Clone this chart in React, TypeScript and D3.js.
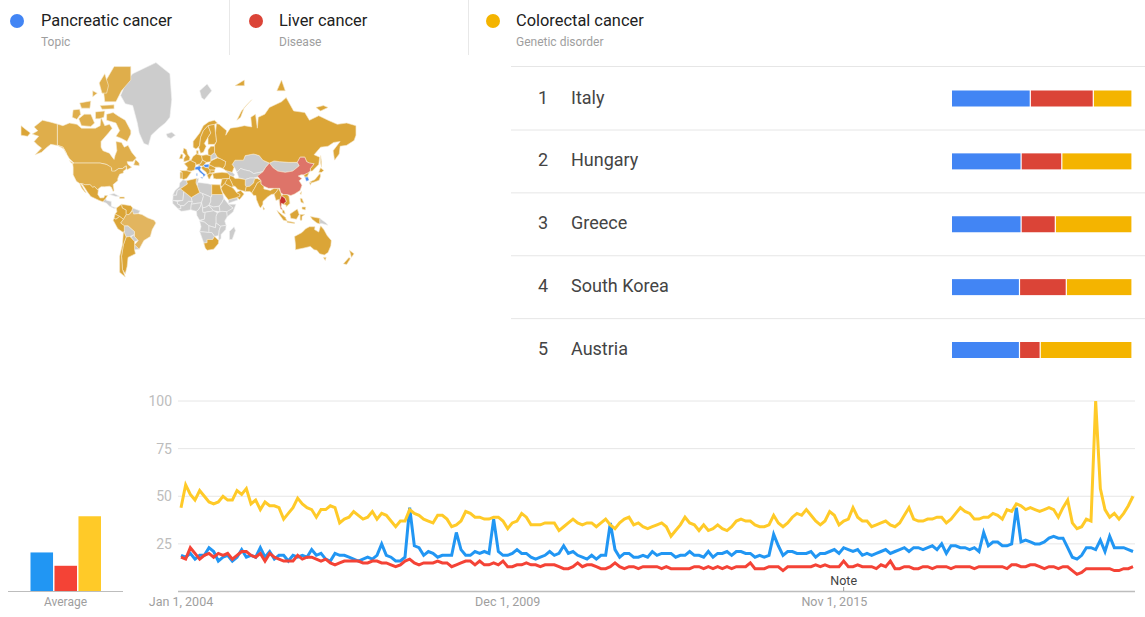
import * as d3 from 'd3';

type Ring = [number, number][];

const topics = ['Pancreatic cancer', 'Liver cancer', 'Colorectal cancer'];
const topicKinds = ['Topic', 'Disease', 'Genetic disorder'];

const regions = ['Italy', 'Hungary', 'Greece', 'South Korea', 'Austria'];
const pancreaticShare = [43.5, 38.4, 38.4, 37.5, 37.5];
const liverShare = [35, 22.6, 19, 26, 11.5];
const colorectalShare = [21.5, 39, 42.6, 36.5, 51];

const averages = [20.5, 13.5, 39.5];

const yTicks = [25, 50, 75, 100];
const xLabels: [number, string][] = [[0, 'Jan 1, 2004'], [70, 'Dec 1, 2009'], [140, 'Nov 1, 2015']];
const noteMonth = 142;

const pancreatic = [
  19, 18, 20, 17, 19, 19, 23, 21, 16, 18, 19, 16, 18, 22, 18, 19, 18, 23, 18, 21,
  17, 19, 19, 16, 19, 18, 19, 18, 22, 19, 20, 17, 16, 20, 19, 19, 18, 17, 16, 17,
  18, 17, 19, 25, 19, 18, 16, 16, 18, 44, 24, 23, 19, 21, 20, 18, 19, 19, 19, 31,
  22, 19, 19, 21, 20, 21, 20, 38, 21, 19, 19, 20, 22, 20, 20, 18, 17, 18, 19, 21,
  19, 20, 24, 20, 21, 19, 18, 17, 19, 17, 19, 19, 36, 22, 18, 20, 20, 18, 18, 19,
  18, 21, 19, 20, 20, 20, 18, 19, 19, 21, 19, 19, 18, 21, 18, 20, 20, 21, 19, 21,
  21, 20, 20, 18, 19, 18, 19, 30, 24, 19, 21, 21, 20, 20, 20, 21, 18, 20, 20, 21,
  22, 20, 23, 22, 21, 22, 19, 20, 19, 20, 21, 22, 20, 21, 22, 23, 21, 23, 23,
  22, 23, 24, 22, 25, 20, 24, 24, 23, 23, 22, 23, 21, 31, 24, 26, 26, 24, 24, 25,
  44, 26, 27, 26, 25, 25, 26, 28, 29, 28, 28, 23, 18, 17, 19, 23, 23, 22, 27, 21, 29,
  23, 23, 23, 22, 21,
];

const liver = [
  18, 17, 23, 20, 17, 19, 20, 18, 20, 19, 20, 17, 19, 21, 21, 19, 18, 20, 16, 20,
  18, 17, 16, 16, 16, 19, 17, 18, 18, 17, 16, 17, 15, 14, 15, 16, 16, 16, 16, 15,
  15, 16, 16, 15, 15, 14, 13, 14, 16, 17, 15, 14, 15, 15, 15, 16, 15, 15, 13, 14,
  15, 16, 16, 14, 16, 14, 14, 15, 14, 16, 13, 13, 14, 14, 15, 14, 14, 13, 14, 14,
  14, 13, 12, 12, 13, 15, 13, 14, 14, 13, 12, 12, 13, 15, 13, 12, 13, 13, 12, 13,
  13, 13, 13, 12, 13, 12, 12, 12, 12, 12, 13, 13, 12, 13, 12, 13, 12, 13, 12, 13,
  13, 13, 15, 12, 12, 12, 13, 13, 13, 11, 13, 13, 13, 13, 13, 13, 14, 13, 14, 13,
  13, 13, 16, 13, 13, 14, 13, 13, 13, 12, 14, 13, 16, 12, 12, 13, 13, 12, 12, 13,
  13, 12, 13, 13, 13, 12, 13, 13, 13, 13, 12, 13, 13, 13, 13, 13, 13, 12, 14, 14,
  13, 13, 14, 14, 13, 12, 13, 13, 12, 13, 13, 11, 9, 10, 12, 12, 12, 12, 12, 12,
  11, 11, 12, 12, 13,
];

const colorectal = [
  44, 56, 51, 48, 53, 50, 47, 46, 47, 50, 48, 48, 53, 51, 54, 46, 48, 43, 47, 45,
  45, 44, 38, 41, 44, 49, 46, 44, 43, 39, 43, 43, 45, 44, 36, 38, 39, 42, 40, 38,
  39, 42, 38, 41, 40, 37, 34, 37, 37, 43, 41, 40, 38, 37, 36, 40, 40, 38, 34, 35,
  37, 42, 41, 39, 39, 38, 38, 39, 39, 37, 33, 36, 37, 41, 39, 35, 35, 35, 36, 36,
  36, 32, 34, 36, 38, 36, 35, 36, 36, 34, 36, 38, 35, 33, 36, 38, 39, 35, 36, 34,
  33, 34, 35, 36, 34, 29, 32, 35, 39, 36, 35, 32, 35, 32, 33, 35, 33, 32, 34, 37,
  38, 37, 37, 35, 34, 34, 35, 40, 36, 34, 36, 39, 41, 40, 43, 40, 37, 35, 37, 42,
  40, 35, 37, 38, 44, 39, 37, 37, 34, 35, 36, 37, 35, 34, 36, 40, 44, 38, 37, 37,
  38, 38, 39, 39, 36, 38, 41, 44, 42, 41, 38, 38, 39, 39, 41, 40, 38, 43, 42, 46,
  45, 43, 44, 43, 42, 43, 44, 43, 39, 44, 48, 36, 33, 34, 38, 37, 100, 54, 43, 39,
  41, 38, 41, 45, 50,
];

// map outlines in lon/lat, one list per shade
const darkGoldLand: Ring[] = [
  [[28, 70], [33, 69.5], [41, 67], [40, 65], [45, 68], [54, 68.5], [60, 69], [68, 68.5], [67, 72], [72, 73], [74, 68], [75, 72], [82, 73], [87, 75], [100, 76.5], [105, 77.5], [113, 74], [125, 73.5], [130, 71], [140, 72.5], [150, 71], [160, 69.5], [170, 70], [180, 69], [180, 65], [178, 62.5], [170, 60], [163, 59.5], [162, 55], [157, 51], [155.5, 57], [163, 62], [156, 61.5], [150, 59.5], [142, 59], [135, 54.5], [141, 53], [140, 48], [133, 43], [131, 43], [131, 45], [135, 48.5], [130, 49], [127, 50], [125, 53], [120, 53], [117, 49.5], [108, 49.5], [98, 50], [92, 50.5], [87, 49], [80, 51], [76, 54], [70, 55], [61, 54], [59, 51], [50, 51], [47, 48], [49, 46], [47, 42], [40, 43.5], [37, 45], [39, 47], [40, 50], [34, 52], [31, 53], [28, 56], [28, 60], [30, 62], [29, 66], [30, 69.5]],
  [[-180, 69], [-175, 67.5], [-170, 66], [-173, 64.5], [-180, 65]],
  [[142, 54], [143, 50], [143, 46], [142, 49]],
  [[52, 71], [57, 74], [68, 77], [60, 75], [56, 72]],
  [[95, 79], [104, 79], [100, 81]],
  [[137, 75], [145, 75.5], [150, 75], [142, 74]],
  [[50, 80], [60, 81], [60, 80]],
  [[114, -22], [122, -18], [126, -14], [130, -12], [136, -12], [135.5, -15], [140, -17.5], [142, -11], [145.5, -15], [149, -21], [153.5, -26], [153, -31], [150, -37], [146, -39], [141, -38], [138, -35], [135, -34.5], [131, -31.5], [124, -33], [115, -34.5], [115, -30]],
  [[145, -41], [148, -41], [147, -43.5]],
  [[173, -35], [178, -38], [175, -41], [174.5, -39]],
  [[172.5, -41], [174, -42], [170, -46.5], [166.5, -46]],
  [[-67, -22.5], [-63, -22], [-58, -27], [-58, -34.5], [-57, -38], [-65, -41], [-66, -48], [-68, -53], [-71, -50], [-72, -40], [-70, -30]],
  [[-70, -18], [-69, -18], [-67, -22.5], [-70, -30], [-72, -40], [-71, -50], [-68, -55], [-74, -52], [-74, -40], [-71, -30]],
  [[-77.5, 8], [-72, 12], [-71, 8], [-67, 6], [-67, 1], [-70, -4], [-74, -1], [-79, 1.5], [-77, 4]],
  [[-72, 12], [-62, 10.5], [-60, 8], [-61, 5], [-64, 1], [-67, 1], [-67, 6], [-71, 8]],
  [[-80, -3], [-79, 1.5], [-74, -1], [-78, -4]],
  [[-81, -5], [-80, -3], [-78, -4], [-74, -1], [-70, -4], [-73, -8], [-69, -11], [-69, -16], [-70, -18], [-76, -14]],
  [[5, 59], [5, 62], [12, 66], [16, 69], [22, 70.5], [28, 71], [31, 70], [28, 69.5], [21, 69], [16, 67], [13, 64], [12, 60], [10.5, 59], [8, 58]],
  [[11, 59], [12, 60], [13, 64], [16, 67], [21, 69], [24, 66], [21, 64], [17, 61], [19, 59.5], [16, 56], [13, 55.5]],
  [[21, 60.5], [21, 64], [24, 66], [21, 69], [28, 69.5], [29, 66], [30, 62], [28, 60.5]],
  [[8.5, 55], [8.5, 57], [10.5, 57], [10.5, 55]],
  [[-5, 50], [1, 51], [1.5, 53], [-1, 55], [-2, 57.5], [-5, 58.5], [-6, 56], [-3, 54], [-5, 52]],
  [[-10, 52], [-8, 55], [-6, 54.5], [-6.5, 52]],
  [[-4.5, 48.5], [2, 51], [8, 49], [7, 44], [3, 43], [-2, 43.3], [-1, 46]],
  [[-9, 43.5], [-2, 43.3], [3, 42.3], [0, 39], [-2, 37], [-5.5, 36], [-7, 37], [-7, 42]],
  [[-9, 42], [-7, 42], [-7, 37], [-9, 37]],
  [[3, 51.2], [5, 53.5], [8.5, 55], [14, 54], [15, 51], [13, 48.5], [8, 47.7], [8, 49], [2, 51]],
  [[14, 54], [19, 54.5], [24, 54], [24, 50], [19, 49.5], [15, 51]],
  [[13, 48.5], [15, 51], [19, 49.5], [17, 47.8], [16, 46.8], [10, 47]],
  [[22, 48], [28, 46], [29, 45], [28, 43.7], [23, 43.8], [21, 45.5]],
  [[23, 43.8], [28, 43.7], [28, 42], [23, 41.3]],
  [[13.5, 45.7], [16, 46.8], [18.5, 45.8], [21, 45.5], [23, 43.8], [23, 41.3], [20, 40], [19, 42], [15, 44.5]],
  [[20, 40], [23, 41.3], [26, 41], [23.5, 38], [23, 36.5], [21.5, 37]],
  [[24, 50.5], [31, 52.5], [34, 52], [40, 50], [39, 47], [37, 45], [33, 46], [30, 46], [28, 46], [22, 48], [24, 50]],
  [[21, 54.5], [21, 57.5], [24, 59.5], [28, 59.5], [28, 56], [24, 54]],
  [[26, 41], [29, 41.5], [36, 42], [42, 41.5], [44.5, 39.5], [44, 37], [36, 36.5], [30, 36.5], [27, 37]],
  [[44.5, 39.5], [48, 38.5], [50, 37], [54, 37], [61, 36], [61, 31], [62, 29.5], [61, 25], [57, 26], [53, 27], [50, 30], [48, 30], [46, 34], [44, 37]],
  [[44, 37], [46, 34], [48, 30], [46.5, 29], [42, 31], [39, 32.5], [41, 36.5]],
  [[36, 36.5], [42, 37], [39, 32.5], [36, 29.5], [34.5, 31]],
  [[35, 28], [36, 29.5], [39, 32.5], [42, 31], [46.5, 29], [48, 28], [50, 26], [51.5, 24], [55.5, 22], [55, 20], [52, 19], [44, 17], [43, 16.5], [40, 20], [37, 24]],
  [[51.5, 24], [56, 26], [59.8, 22.5], [55, 17], [52, 19], [55, 20], [55.5, 22]],
  [[61, 25], [62, 29.5], [66, 30], [70, 33], [71, 36.5], [74, 37], [78, 35], [74, 33], [71, 28], [68, 23.5], [66, 25]],
  [[68, 23.5], [71, 28], [74, 33], [78, 35], [78, 32], [81, 30], [81, 27.5], [88, 26], [92, 28], [97, 28], [94, 24], [92, 22.5], [89, 22], [85, 19.5], [80, 15], [80, 12], [77.5, 8], [76, 10], [73, 17], [72.5, 21], [70, 21]],
  [[92, 22.5], [94, 24], [97, 28], [99, 24], [100, 21], [98, 16], [98.5, 10], [97, 17], [94, 16]],
  [[102, 22], [106, 22], [108, 20], [109, 13], [105, 9], [105, 11], [102, 12], [105, 15], [104, 18], [100, 21]],
  [[95, 5.5], [104, -2], [106, -6], [102, -5], [97, 2]],
  [[106, -6], [114, -7.5], [114, -8.5], [106, -7.5]],
  [[109, 1.5], [117, 7], [119, 1], [116, -4], [110, -3]],
  [[120, 1], [125, 1], [122, -1], [122, -5], [120, -5]],
  [[131, -1], [141, -3], [141, -9], [138, -8], [133, -4]],
  [[101, 6.5], [103, 5], [104, 1.5], [101, 3]],
  [[120, 18], [122, 18], [124, 13], [121, 14]],
  [[122, 9], [126, 9], [125.5, 6], [122, 7]],
  [[120, 23], [121.5, 25], [121, 22]],
  [[80, 9.5], [82, 7], [80.5, 6]],
  [[124, 40], [128, 41.5], [130, 42.5], [128, 39], [128.5, 38.3], [125, 38]],
  [[130.8, 34], [136, 36], [140, 40], [141.5, 41], [142, 39], [140.5, 35.5], [136, 34], [132, 33]],
  [[140, 42], [142, 45.5], [145.5, 43.5], [143, 42]],
  [[130, 33.5], [132, 33], [131, 31]],
  [[-2, 35], [8.5, 37], [8, 33], [9.5, 30], [12, 24], [3, 19], [-5, 25], [-8.7, 27.6], [-1.2, 32]],
  [[25, 31.5], [34, 31.3], [34.5, 28], [37, 22], [25, 22]],
  [[16.5, -28.5], [20, -28], [20, -25], [26, -25], [28, -22], [32.5, -26], [32, -29], [27, -34], [20, -35], [18, -33]],
  [[-74, 19.5], [-69, 19.5], [-69, 18], [-74, 18]],
  [[-115, 32.5], [-111, 31.3], [-106, 31.5], [-103, 29], [-101, 29.5], [-97, 26], [-97.5, 22], [-95, 18.5], [-91, 18.7], [-90, 21], [-87, 21], [-89, 18], [-92, 14.5], [-96, 16], [-105, 20], [-109, 25], [-113, 30.5]],
  [[-117, 32.5], [-115.5, 31.5], [-112, 26.5], [-110, 23.5], [-112, 25], [-115, 28.5]],
];

const midGoldLand: Ring[] = [
  [[-141, 69.6], [-135, 69], [-128, 70], [-120, 69.5], [-115, 68], [-108, 68], [-100, 68], [-95, 69], [-94, 72], [-90, 69], [-85, 69.5], [-82, 68], [-86, 66], [-94, 62], [-94, 59], [-92, 57], [-85, 55.5], [-82, 53], [-80, 51.5], [-79, 54], [-77, 57], [-78, 62], [-72, 61.5], [-69, 59], [-65, 60], [-61, 56], [-56, 52.5], [-60, 50], [-66, 50], [-65, 48], [-61, 46], [-66, 44], [-67, 47], [-71, 45], [-75, 45], [-79, 43], [-83, 42], [-82.5, 45], [-88, 48], [-95, 49], [-123, 49], [-128, 52], [-131, 55], [-135, 59], [-141, 60]],
  [[-81, 73.5], [-76, 72.5], [-68, 71], [-62, 67], [-62, 65.5], [-66, 62], [-72, 63.5], [-78, 64.5], [-74, 67], [-78, 70], [-88, 71], [-88, 73]],
  [[-118, 71.5], [-112, 73], [-105, 73], [-101, 70], [-105, 68.7], [-115, 69]],
  [[-90, 76.5], [-92, 80], [-80, 83], [-62, 83], [-62, 81], [-72, 79], [-78, 76.5]],
  [[-125, 72], [-124, 74.3], [-117, 74.5], [-116, 73], [-120, 71.3]],
  [[-95, 75.5], [-80, 75.7], [-80, 74.6], [-93, 74.5]],
  [[-96, 80.5], [-90, 82], [-86, 80], [-88, 78.5], [-93, 78.5]],
  [[-117, 76.2], [-105, 76.7], [-106, 74.8], [-115, 74.8]],
  [[-100, 73.7], [-90, 74], [-91, 72], [-96, 71.5], [-100, 71.5]],
  [[-103, 79], [-98, 78.5], [-103, 77.7]],
  [[-59, 47.7], [-57, 51.5], [-53, 49], [-53, 47]],
  [[-128, 50.8], [-124, 49], [-123.5, 48.5], [-126, 49]],
  [[-124.5, 48.5], [-123, 49], [-95, 49], [-88, 48], [-83, 46], [-82.5, 43], [-79, 43], [-75, 45], [-71, 45], [-67, 47], [-67, 44.5], [-70, 43], [-70, 41.5], [-74, 40.5], [-76, 37], [-76, 35], [-81, 31.5], [-80, 26], [-81, 25], [-83, 29], [-85, 30], [-90, 29.5], [-94, 29.5], [-97, 27.5], [-97, 26], [-101, 29.5], [-103, 29], [-106, 31.5], [-111, 31.3], [-115, 32.5], [-117, 32.5], [-120.5, 34.5], [-124, 40], [-124, 46]],
  [[-141, 69.6], [-141, 60], [-135, 59], [-131, 55], [-134, 58], [-140, 59.8], [-148, 60.5], [-152, 59], [-158, 56], [-165, 54.5], [-158, 58.5], [-162, 60], [-166, 62], [-161, 64.5], [-168, 65.5], [-162, 67], [-166, 68.5], [-157, 71], [-148, 70.3]],
];

const paleGoldLand: Ring[] = [
  [[-70, -4], [-67, 1], [-64, 1], [-60, 5], [-59, 1.5], [-54, 2], [-50, 1], [-44, -2.5], [-37, -5], [-35, -8], [-39, -15], [-41, -22], [-48, -26], [-53, -34], [-58, -30], [-54, -26], [-58, -22], [-58, -17], [-65, -11], [-69, -11], [-73, -8]],
];

const greyLand: Ring[] = [
  [[-73, 78], [-66, 81], [-60, 82], [-35, 83.5], [-20, 82], [-18, 77], [-20, 72], [-25, 70], [-32, 68], [-40, 65], [-43, 60], [-48, 61], [-53, 66], [-55, 70], [-60, 75.5], [-68, 76]],
  [[-24, 65.5], [-18, 66.3], [-14, 65], [-19, 63.5], [-22.5, 64]],
  [[12, 79], [20, 80.3], [25, 79], [17, 77], [14, 77.5]],
  [[24, 54], [28, 56], [31, 53], [24, 51]],
  [[40, 43.5], [47, 42], [50, 40], [48, 38.5], [44.5, 39.5], [42, 41.5]],
  [[47, 48], [50, 51], [59, 51], [61, 54], [70, 55], [76, 54], [80, 51], [87, 49], [83, 46], [80, 42.5], [70, 41], [66, 43], [60, 44], [56, 45], [52, 42], [50, 45]],
  [[52, 42], [56, 45], [60, 44], [66, 43], [70, 41], [80, 42.5], [74, 38], [70, 37.3], [66, 37.3], [61, 36], [54, 37.5], [53, 40]],
  [[87, 49], [92, 50.5], [98, 50], [108, 49.5], [117, 49.5], [119, 47], [112, 43], [104, 42], [96, 43], [91, 45.5]],
  [[61, 36], [66, 37.3], [70, 37.3], [74, 38], [71, 36.5], [70, 33], [66, 30], [62, 29.5], [61, 31]],
  [[43, 13], [43, 16.5], [44, 17], [52, 19], [53, 16.5]],
  [[-6, 35.8], [-2, 35], [-1.2, 32], [-8.7, 27.6], [-12, 26], [-13, 21.3], [-17, 21.3], [-14.5, 26], [-10, 29.5], [-9.5, 33]],
  [[8.5, 37], [11, 37], [10, 33.5], [9.5, 30], [8, 33]],
  [[10, 33.5], [20, 32.5], [25, 31.5], [25, 20], [24, 19.5], [15, 23], [12, 24], [9.5, 30]],
  [[-17, 16], [-16.5, 21.3], [-13, 21.3], [-12, 26], [-8.7, 27.6], [-5, 25], [-6, 16]],
  [[-12, 15], [-6, 16], [-5, 25], [3, 19], [4, 15], [0, 15], [-5, 10.5], [-8.5, 10.5], [-12, 12.5]],
  [[3, 12], [4, 15], [3, 19], [12, 24], [15, 23], [16, 20], [14, 13.5], [9, 13]],
  [[14, 13.5], [16, 20], [15, 23], [24, 19.5], [24, 15], [22, 11], [19, 9], [15, 8]],
  [[24, 15], [24, 19.5], [25, 20], [25, 22], [37, 22], [38, 18], [36, 14], [33, 10], [27, 9], [22, 11]],
  [[-17, 16], [-12, 15], [-12, 12.5], [-8.5, 10.5], [-8, 7.5], [-11, 7], [-15, 11], [-17, 13]],
  [[-8.5, 10.5], [-5, 10.5], [0, 15], [4, 15], [3, 12], [2.5, 6.3], [-3, 5], [-8, 4.5], [-11, 7], [-8, 7.5]],
  [[3, 12], [9, 13], [14, 13.5], [13, 10], [11, 6.5], [8.5, 4.5], [5, 5.5], [2.5, 6.3]],
  [[8.5, 4.5], [11, 6.5], [13, 10], [14, 13.5], [15, 8], [15.5, 3.5], [18, 3.5], [17, -4], [12, -5], [9, 0]],
  [[15, 8], [19, 9], [22, 11], [27, 5], [18, 3.5], [15.5, 3.5]],
  [[22, 11], [27, 9], [33, 10], [34, 4], [27, 5]],
  [[33, 10], [36, 14], [38, 18], [43, 12], [48, 8], [42, 4], [36, 4.5], [34, 4]],
  [[43, 12], [51, 12], [48, 4], [41.5, -1.5], [41, 4], [48, 8]],
  [[34, 4], [36, 4.5], [41, 4], [41.5, -1.5], [39, -6], [40.5, -10.5], [34.5, -11.5], [29.5, -8], [29.5, -1], [31, 3]],
  [[18, 3.5], [27, 5], [31, 3], [29.5, -1], [29.5, -8], [29, -13], [22, -11], [17, -7], [12, -6], [17, -4]],
  [[12, -6], [17, -7], [22, -11], [22, -18], [12, -17], [13.5, -12]],
  [[22, -11], [29, -13], [29.5, -8], [34.5, -11.5], [33, -16], [32.5, -21], [28, -22], [25, -18], [22, -18]],
  [[40.5, -10.5], [40, -15], [35, -20], [35, -24], [32.5, -26], [32.5, -21], [33, -16], [34.5, -11.5]],
  [[12, -17], [22, -18], [25, -18], [28, -22], [26, -25], [20, -25], [20, -28], [16.5, -28.5]],
  [[49, -12], [50.5, -16], [47, -25], [44, -25], [44, -17]],
  [[-60, 8], [-52, 5], [-54, 2], [-59, 1.5], [-61, 5]],
  [[-69, -11], [-65, -11], [-58, -17], [-58, -20], [-63, -22], [-67, -22.5], [-69, -18], [-69, -16]],
  [[-58, -20], [-58, -22], [-54, -26], [-58, -27], [-62, -22.5]],
  [[-58, -30], [-53, -34], [-58, -34.5]],
  [[-92, 14.5], [-89, 18], [-88, 16], [-83, 15], [-83, 10], [-77.5, 8], [-80, 7.5], [-85, 10], [-88, 13]],
  [[-85, 22], [-80, 23], [-74, 20], [-78, 20]],
  [[141, -3], [148, -8], [150, -10.5], [143, -8.5], [141, -9]],
];

const chinaLand: Ring[] = [
  [[74, 39], [80, 42.5], [83, 46], [87, 49], [91, 45.5], [96, 43], [104, 42], [112, 43], [119, 47], [117, 49.5], [120, 53], [125, 53], [127, 50], [130, 49], [135, 48.5], [131, 45], [131, 43], [128, 41.5], [124, 40], [121, 40], [118, 39], [122, 37], [119, 35], [122, 31], [120, 26], [114, 22.5], [110, 21], [106, 22], [102, 22], [99, 24], [98, 28], [92, 28], [86, 28], [81, 30], [78, 32], [78, 35]],
];

const thailandLand: Ring[] = [
  [[98, 16], [100, 21], [104, 18], [105, 15], [102, 12], [100, 13], [99.5, 9], [101, 6.5], [99, 7], [98.5, 10]],
];

const blueLand: Ring[] = [
  [[7, 44], [7, 46], [12, 47], [13.5, 45.7], [12.5, 44], [16, 41.5], [18.5, 40], [16, 38], [15.5, 40], [12, 42], [10, 44]],
  [[12.5, 38], [15.5, 38.2], [15, 36.7]],
  [[8.3, 41], [9.7, 41], [9.5, 39], [8.5, 39]],
  [[16, 46.8], [17, 47.9], [22, 48.3], [22, 46], [18.5, 45.8]],
  [[125, 38], [128.5, 38.3], [129.5, 36], [129, 35], [126.5, 34.5]],
];

const legendColours = ['#4285f4', '#db4437', '#f4b400'];
const lineColours = ['#2196f3', '#f44336', '#ffca28'];
const font = 'Roboto, sans-serif';

const projection = d3.geoMercator().scale(53.3).translate([188.5, 215.5]);
const ringPath = d3.line<[number, number]>()
  .x(d => projection(d)![0])
  .y(d => projection(d)![1])
  .curve(d3.curveLinearClosed);

const y = d3.scaleLinear().domain([0, 100]).range([591.5, 401]);
const x = d3.scaleLinear().domain([0, pancreatic.length - 1]).range([181, 1133]);

const trendLine = d3.line<number>()
  .x((_, i) => x(i))
  .y(d => y(d))
  .curve(d3.curveLinear);

const share = d3.scaleLinear().domain([0, 100]).range([952, 1132]);
const rowY = d3.scalePoint<string>().domain(regions).range([98.5, 350]);
const avgX = d3.scaleBand<number>().domain([0, 1, 2]).range([30.5, 101]).paddingInner(0.06);

function Land({ rings, fill, stroke }: { rings: Ring[]; fill: string; stroke: string }) {
  return (
    <g fill={fill} stroke={stroke} strokeWidth={0.6} strokeLinejoin="round">
      {rings.map((r, i) => <path key={i} d={ringPath(r) ?? ''} />)}
    </g>
  );
}

export default function App() {
  const series = [pancreatic, liver, colorectal];
  const shares = [pancreaticShare, liverShare, colorectalShare];

  return (
    <svg
      width={1145}
      height={617}
      viewBox="0 0 1145 617"
      style={{ position: 'absolute', left: 0, top: 0, display: 'block', background: '#fff' }}
      fontFamily={font}
    >
      {/* legend */}
      {topics.map((t, i) => {
        const dotX = [17, 256, 493][i];
        const textX = [41, 279, 516][i];
        return (
          <g key={t}>
            <circle cx={dotX} cy={21} r={7} fill={legendColours[i]} />
            <text x={textX} y={26} fontSize={16.4} fill="#212121">{t}</text>
            <text x={textX} y={46} fontSize={12} fill="#9e9e9e">{topicKinds[i]}</text>
          </g>
        );
      })}
      {[229.5, 468.5].map(d => (
        <line key={d} x1={d} x2={d} y1={0} y2={55} stroke="#e8e8e8" />
      ))}

      {/* map */}
      <Land rings={greyLand} fill="#cccccc" stroke="#f2f2f2" />
      <Land rings={paleGoldLand} fill="#e2b55f" stroke="#f7ecd5" />
      <Land rings={midGoldLand} fill="#dfae4b" stroke="#f7ecd5" />
      <Land rings={darkGoldLand} fill="#dba537" stroke="#f5e6c6" />
      <Land rings={chinaLand} fill="#de7469" stroke="#f5e6c6" />
      <Land rings={thailandLand} fill="#c8322d" stroke="#f5e6c6" />
      <Land rings={blueLand} fill="#4a8cf0" stroke="#f5f5f5" />

      {/* region table */}
      <line x1={511} x2={1145} y1={66.5} y2={66.5} stroke="#e6e6e6" />
      {regions.map((r, i) => {
        const cy = rowY(r)!;
        const values = shares.map(s => s[i]);
        const offsets = d3.cumsum(values);
        return (
          <g key={r}>
            <text x={538} y={cy + 5} fontSize={18} fill="#444">{i + 1}</text>
            <text x={571} y={cy + 5} fontSize={18} fill="#444">{r}</text>
            {values.map((v, j) => (
              <rect
                key={j}
                x={share(offsets[j] - v) + (j ? 0.6 : 0)}
                y={cy - 8}
                width={share(offsets[j]) - share(offsets[j] - v) - (j ? 1.2 : 0.6)}
                height={16}
                fill={legendColours[j]}
              />
            ))}
            {i < regions.length - 1 && (
              <line x1={511} x2={1145} y1={cy + 31.5} y2={cy + 31.5} stroke="#e6e6e6" />
            )}
          </g>
        );
      })}

      {/* average bars */}
      {averages.map((v, i) => (
        <rect key={i} x={avgX(i)} y={y(v)} width={avgX.bandwidth()} height={y(0) - y(v)} fill={lineColours[i]} />
      ))}
      <line x1={8} x2={123} y1={591.5} y2={591.5} stroke="#bdbdbd" />
      <text x={65.5} y={606} textAnchor="middle" fontSize={12} fill="#9e9e9e">Average</text>

      {/* trend chart */}
      {yTicks.map(t => (
        <g key={t}>
          <line x1={178} x2={1135} y1={y(t)} y2={y(t)} stroke="#e6e6e6" />
          <text x={172} y={y(t) + 5} textAnchor="end" fontSize={14} fill="#bdbdbd">{t}</text>
        </g>
      ))}
      <line x1={178} x2={1135} y1={y(0)} y2={y(0)} stroke="#bdbdbd" strokeWidth={1.5} />
      {series.map((s, i) => (
        <path
          key={i}
          d={trendLine(s) ?? ''}
          fill="none"
          stroke={lineColours[i]}
          strokeWidth={3}
          strokeLinejoin="miter"
        />
      ))}
      {xLabels.map(([m, label]) => (
        <text key={label} x={x(m)} y={606} textAnchor="middle" fontSize={12.5} fill="#9e9e9e">{label}</text>
      ))}
      <line x1={x(noteMonth)} x2={x(noteMonth)} y1={587} y2={591} stroke="#9e9e9e" />
      <text x={x(noteMonth)} y={585} textAnchor="middle" fontSize={12.5} fill="#424242">Note</text>
    </svg>
  );
}
